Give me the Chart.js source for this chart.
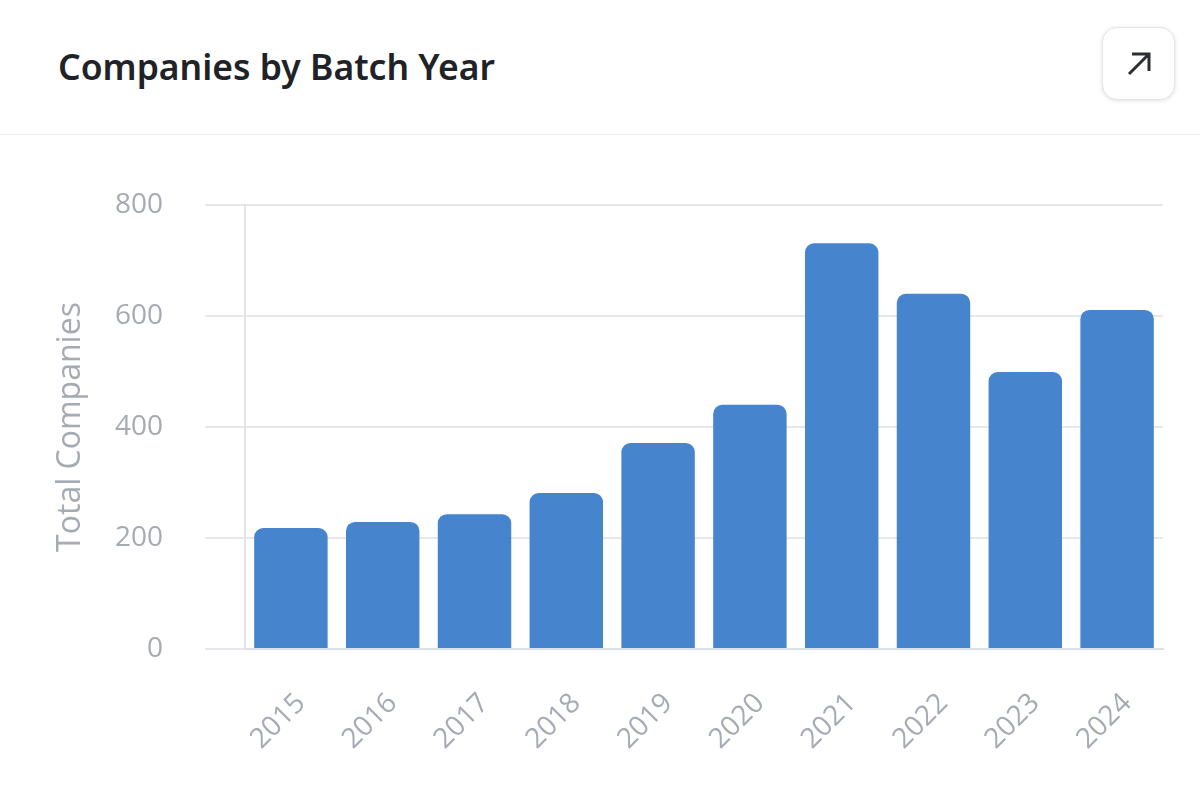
<!DOCTYPE html>
<html>
<head>
<meta charset="utf-8">
<script src="https://cdn.jsdelivr.net/npm/chart.js@4"></script>
<style>
  html, body { margin: 0; padding: 0; background: #fff; }
  body { width: 1200px; height: 787px; position: relative; overflow: hidden; font-family: "Open Sans", "Noto Sans", sans-serif; }
  #title { position: absolute; left: 58px; top: 44px; font-size: 35.5px; line-height: 44px; font-weight: 600; color: #1f2328; font-family: "Noto Sans", sans-serif; }
  #rule { position: absolute; left: 0; right: 0; top: 134px; height: 1px; background: #eceef0; }
  #expand { position: absolute; left: 1102px; top: 27px; width: 73px; height: 73px; box-sizing: border-box; border: 1px solid #e3e5e8; border-radius: 15px; background: #fff; box-shadow: 0 1px 4px rgba(0,0,0,0.12); }
  #expand svg { position: absolute; left: 20px; top: 20px; }
  #wrap { position: absolute; left: 0; top: 135px; width: 1200px; height: 652px; }
</style>
</head>
<body>
<div id="title">Companies by Batch Year</div>
<div id="expand"><svg width="32" height="32" viewBox="0 0 32 32" fill="none" stroke="#2b2f33" stroke-width="3"><path d="M6 26 L26 6 M9 6 H26 V23"/></svg></div>
<div id="rule"></div>
<div id="wrap"><canvas id="chart"></canvas></div>
<script>
const years = ['2015','2016','2017','2018','2019','2020','2021','2022','2023','2024'];
const totalCompanies = [218, 229, 243, 281, 371, 440, 731, 640, 499, 611];
const yTicks = [0, 200, 400, 600, 800];

const tickColor = '#a6abb3';

new Chart(document.getElementById('chart').getContext('2d'), {
    type: 'bar',
    data: {
        labels: years,
        datasets: [{
            data: totalCompanies,
            backgroundColor: '#4685ce',
            borderRadius: { topLeft: 9, topRight: 9 },
            borderSkipped: 'bottom',
            categoryPercentage: 0.8,
            barPercentage: 1
        }]
    },
    options: {
        animation: false,
        responsive: true,
        maintainAspectRatio: false,
        devicePixelRatio: 1,
        layout: { padding: { left: 48, right: 37, top: 70, bottom: 30 } },
        plugins: { legend: { display: false }, tooltip: { enabled: false } },
        scales: {
            x: {
                afterFit: axis => { axis.height = 108; },
                grid: { display: false },
                border: { color: '#dcdfe3', width: 2 },
                ticks: { color: tickColor, font: { family: 'Open Sans', size: 28 }, maxRotation: 45, minRotation: 45, padding: 30, labelOffset: 10 }
            },
            y: {
                min: 0,
                max: 800,
                afterBuildTicks: axis => { axis.ticks = yTicks.map(v => ({ value: v })); },
                afterFit: axis => { axis.width = 197; },
                grid: { color: '#e6e8eb', lineWidth: 2, tickLength: 40 },
                border: { color: '#e2e4e7', width: 2 },
                ticks: { color: tickColor, font: { family: 'Open Sans', size: 28 }, padding: 42 },
                title: { display: true, text: 'Total Companies', color: tickColor, font: { family: 'Open Sans', size: 32 }, padding: { bottom: 16 } }
            }
        }
    }
});
</script>
</body>
</html>
